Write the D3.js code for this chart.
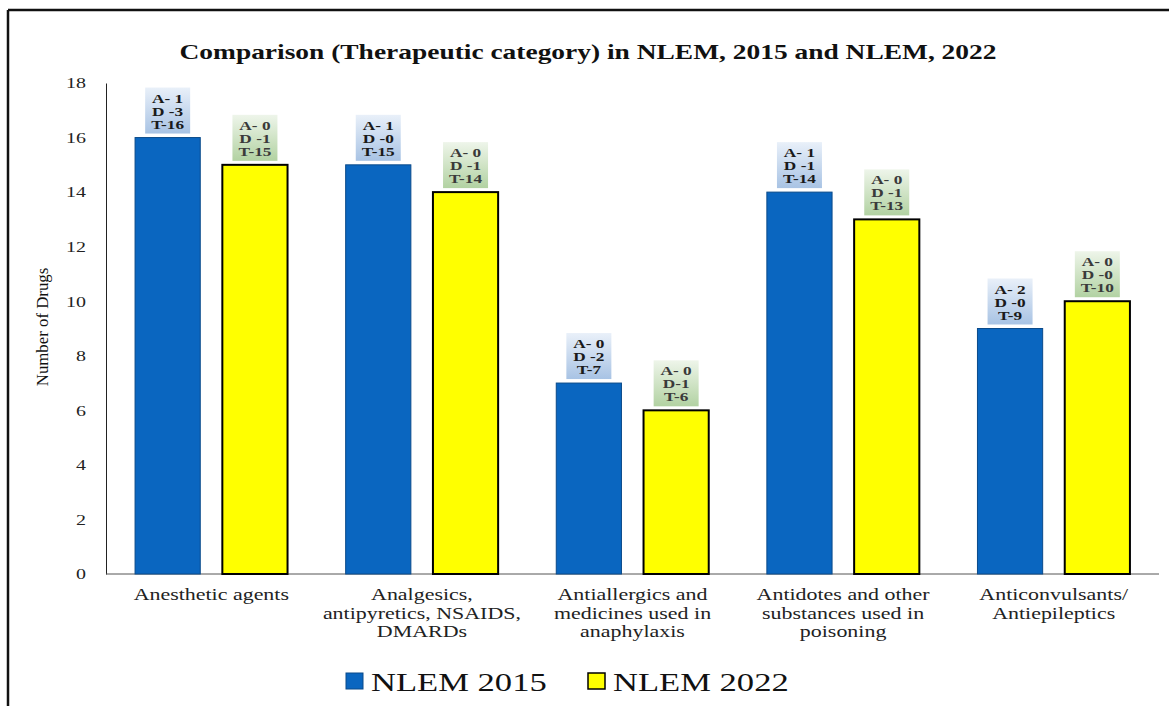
<!DOCTYPE html>
<html>
<head>
<meta charset="utf-8">
<script src="https://cdn.jsdelivr.net/npm/d3@7"></script>
<style>
  html, body { margin: 0; padding: 0; background: #fff; }
  svg text { font-family: "Liberation Serif", "Times New Roman", serif; }
</style>
</head>
<body>
<svg id="chart" width="1169" height="706"></svg>
<script>
var categories = [
  ["Anesthetic agents"],
  ["Analgesics,", "antipyretics, NSAIDS,", "DMARDs"],
  ["Antiallergics and", "medicines used in", "anaphylaxis"],
  ["Antidotes and other", "substances used in", "poisoning"],
  ["Anticonvulsants/", "Antiepileptics"]
];
var nlem2015 = [16, 15, 7, 14, 9];
var nlem2022 = [15, 14, 6, 13, 10];
var notes2015 = [["A- 1", "D -3", "T-16"], ["A- 1", "D -0", "T-15"], ["A- 0", "D -2", "T-7"], ["A- 1", "D -1", "T-14"], ["A- 2", "D -0", "T-9"]];
var notes2022 = [["A- 0", "D -1", "T-15"], ["A- 0", "D -1", "T-14"], ["A- 0", "D-1", "T-6"], ["A- 0", "D -1", "T-13"], ["A- 0", "D -0", "T-10"]];
var seriesNames = ["NLEM 2015", "NLEM 2022"];
var yTicks = [0, 2, 4, 6, 8, 10, 12, 14, 16, 18];

var svg = d3.select("svg#chart");
var plotLeft = 106, plotRight = 1159, plotTop = 83, plotBottom = 574;
var sx = 1.33; // the source picture is stretched sideways

function wideText(parent, x, y, str, anchor) {
  return parent.append("text")
    .text(str)
    .attr("transform", "translate(" + x + "," + y + ") scale(" + sx + ",1)")
    .attr("text-anchor", anchor || "middle");
}

// frame
svg.append("line").attr("x1", 8).attr("x2", 1169).attr("y1", 10).attr("y2", 10)
   .attr("stroke", "#111").attr("stroke-width", 2.5);
svg.append("line").attr("x1", 8).attr("x2", 8).attr("y1", 10).attr("y2", 706)
   .attr("stroke", "#111").attr("stroke-width", 2.5);

var defs = svg.append("defs");
var gb = defs.append("linearGradient").attr("id", "gBlue").attr("x1", 0).attr("y1", 0).attr("x2", 0).attr("y2", 1);
gb.append("stop").attr("offset", "0%").attr("stop-color", "#e9f0f9");
gb.append("stop").attr("offset", "100%").attr("stop-color", "#a8c3e4");
var gg = defs.append("linearGradient").attr("id", "gGreen").attr("x1", 0).attr("y1", 0).attr("x2", 0).attr("y2", 1);
gg.append("stop").attr("offset", "0%").attr("stop-color", "#eef5ea");
gg.append("stop").attr("offset", "100%").attr("stop-color", "#b2d2a2");

var x0 = d3.scaleBand().domain(d3.range(categories.length)).range([plotLeft, plotRight]).paddingInner(0).paddingOuter(0);
var x1 = d3.scaleBand().domain([0, 1]).range([0, x0.bandwidth()]).paddingInner(0.253).paddingOuter(0.333);
var y = d3.scaleLinear().domain([0, 18]).range([plotBottom, plotTop]);

svg.append("text")
   .text("Comparison (Therapeutic category) in NLEM, 2015 and NLEM, 2022")
   .attr("x", 588).attr("y", 59)
   .attr("text-anchor", "middle")
   .attr("textLength", 817).attr("lengthAdjust", "spacingAndGlyphs")
   .style("font-size", "21px").style("font-weight", "bold").attr("fill", "#111");

// y axis
var yAxis = svg.append("g").attr("transform", "translate(" + plotLeft + ",0)")
   .call(d3.axisLeft(y).tickValues(yTicks).tickSize(0).tickPadding(20));
yAxis.select(".domain").attr("stroke", "#222").attr("stroke-width", 1);
yAxis.selectAll("text")
   .attr("x", -20 / sx)
   .attr("transform", "scale(" + sx + ",1)")
   .style("font-size", "15px")
   .style("font-family", "Liberation Serif").attr("fill", "#222");

svg.append("line").attr("x1", plotLeft).attr("x2", plotRight).attr("y1", plotBottom).attr("y2", plotBottom)
   .attr("stroke", "#555").attr("stroke-width", 1);

svg.append("text")
   .text("Number of Drugs")
   .attr("transform", "translate(48,327) rotate(-90) scale(1.2,1.25)")
   .attr("text-anchor", "middle")
   .style("font-size", "14px").attr("fill", "#111");

var series = [
  { values: nlem2015, notes: notes2015, fill: "#0a66c0", stroke: "#0a4a8a", sw: 1, grad: "url(#gBlue)", tc: "#1a1a1a" },
  { values: nlem2022, notes: notes2022, fill: "#ffff00", stroke: "#000", sw: 2, grad: "url(#gGreen)", tc: "#3a3a3a" }
];

series.forEach(function(s, si) {
  var g = svg.append("g");
  s.values.forEach(function(v, i) {
    var bx = x0(i) + x1(si), bw = x1.bandwidth();
    g.append("rect")
     .attr("x", bx).attr("y", y(v))
     .attr("width", bw).attr("height", y(0) - y(v))
     .attr("fill", s.fill).attr("stroke", s.stroke).attr("stroke-width", s.sw);
    var cx = bx + bw / 2, boxH = 46, boxW = 45, by = y(v) - 4 - boxH;
    g.append("rect")
     .attr("x", cx - boxW / 2).attr("y", by)
     .attr("width", boxW).attr("height", boxH)
     .attr("fill", s.grad);
    s.notes[i].forEach(function(line, li) {
      wideText(g, cx, by + 15 + li * 13, line)
       .style("font-size", "13px").style("font-weight", "bold")
       .attr("fill", s.tc);
    });
  });
});

// category labels
categories.forEach(function(lines, i) {
  lines.forEach(function(line, li) {
    wideText(svg, x0(i) + x0.bandwidth() / 2, 600 + li * 18.5, line)
       .style("font-size", "16.5px")
       .attr("fill", "#222");
  });
});

// legend
var legendX = [346, 588];
seriesNames.forEach(function(name, i) {
  var s = series[i];
  svg.append("rect")
     .attr("x", legendX[i]).attr("y", 673)
     .attr("width", 17).attr("height", 16)
     .attr("fill", s.fill).attr("stroke", i === 0 ? "#0a4a8a" : "#000").attr("stroke-width", i === 0 ? 1 : 1.5);
  wideText(svg, legendX[i] + 25, 691, name, "start")
     .style("font-size", "26px")
     .attr("fill", "#111");
});
</script>
</body>
</html>
